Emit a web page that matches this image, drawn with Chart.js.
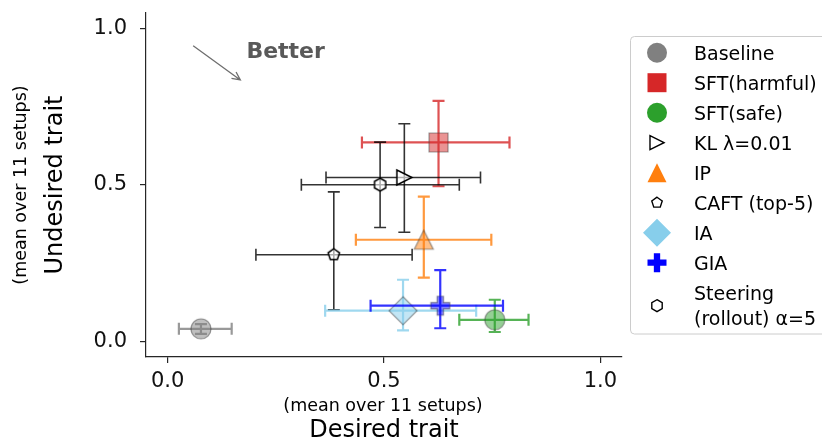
<!DOCTYPE html>
<html>
<head>
<meta charset="utf-8">
<script src="https://cdn.jsdelivr.net/npm/chart.js@4/dist/chart.umd.min.js"></script>
<style>
  html, body { margin: 0; padding: 0; background: #fff; }
  #wrap { width: 822px; height: 437px; }
</style>
</head>
<body>
<div id="wrap"><canvas id="chart" width="822" height="437"></canvas></div>
<script>
// methods, in drawing order
const methods = ['Baseline', 'SFT(harmful)', 'SFT(safe)', 'KL λ=0.01', 'IP', 'CAFT (top-5)', 'IA', 'GIA', 'Steering\n(rollout) α=5'];

// desired trait (x), mean over 11 setups, with error bar ends
const desiredMean = [0.077, 0.626, 0.756, 0.547, 0.592, 0.384, 0.544, 0.630, 0.491];
const desiredLow  = [0.026, 0.449, 0.674, 0.366, 0.435, 0.204, 0.364, 0.469, 0.309];
const desiredHigh = [0.148, 0.790, 0.834, 0.723, 0.748, 0.565, 0.713, 0.775, 0.674];

// undesired trait (y)
const undesiredMean = [0.040, 0.636, 0.069, 0.524, 0.325, 0.277, 0.098, 0.114, 0.501];
const undesiredLow  = [0.024, 0.496, 0.030, 0.349, 0.204, 0.101, 0.035, 0.042, 0.364];
const undesiredHigh = [0.055, 0.769, 0.133, 0.696, 0.463, 0.478, 0.197, 0.228, 0.637];

const tickValues = [0, 0.5, 1.0];

// "Better" arrow annotation, in data units
const arrowFrom = [0.059, 0.945];
const arrowTo = [0.168, 0.836];
const betterAt = [0.182, 0.905];

// styling
const colors = ['#808080', '#d62728', '#2ca02c', '#000000', '#ff7f0e', '#000000', '#87ceeb', '#0000ff', '#000000'];
const shapes = ['circle', 'square', 'circle', 'triRight', 'triUp', 'pentagon', 'diamond', 'plus', 'hexagon'];
const sizes = [20, 19, 20, 15, 19, 12, 28, 19, 13];
const hollow = [false, false, false, true, false, true, false, false, true];

const FONT = '"DejaVu Sans", sans-serif';

function rgba(hex, a) {
  const n = parseInt(hex.slice(1), 16);
  return `rgba(${(n >> 16) & 255},${(n >> 8) & 255},${n & 255},${a})`;
}

function drawShape(g, shape, x, y, s, fill, stroke, lw) {
  const h = s / 2;
  g.beginPath();
  if (shape === 'circle') {
    g.arc(x, y, h, 0, Math.PI * 2);
  } else if (shape === 'square') {
    g.rect(x - h, y - h, s, s);
  } else if (shape === 'triUp') {
    g.moveTo(x, y - h); g.lineTo(x - h, y + h); g.lineTo(x + h, y + h);
  } else if (shape === 'triRight') {
    g.moveTo(x + h, y); g.lineTo(x - h, y - h); g.lineTo(x - h, y + h);
  } else if (shape === 'diamond') {
    g.moveTo(x, y - h); g.lineTo(x + h, y); g.lineTo(x, y + h); g.lineTo(x - h, y);
  } else if (shape === 'pentagon' || shape === 'hexagon') {
    const k = shape === 'pentagon' ? 5 : 6;
    for (let i = 0; i < k; i++) {
      const a = -Math.PI / 2 + i * 2 * Math.PI / k;
      const px = x + h * Math.cos(a), py = y + h * Math.sin(a);
      if (i === 0) g.moveTo(px, py); else g.lineTo(px, py);
    }
  } else if (shape === 'plus') {
    const t = s / 6;
    const pts = [[-1, -3], [-1, -1], [-3, -1], [-3, 1], [-1, 1], [-1, 3], [1, 3], [1, 1], [3, 1], [3, -1], [1, -1], [1, -3]];
    pts.forEach((p, i) => i ? g.lineTo(x + p[0] * t, y + p[1] * t) : g.moveTo(x + p[0] * t, y + p[1] * t));
  }
  g.closePath();
  if (fill) { g.fillStyle = fill; g.fill(); }
  if (stroke) { g.strokeStyle = stroke; g.lineWidth = lw; g.stroke(); }
}

function makeMarker(i) {
  const dim = Math.ceil(sizes[i]) + 6;
  const c = document.createElement('canvas');
  c.width = dim; c.height = dim;
  const g = c.getContext('2d');
  if (hollow[i]) drawShape(g, shapes[i], dim / 2, dim / 2, sizes[i], 'rgba(255,255,255,0.6)', '#000', 1.5);
  else drawShape(g, shapes[i], dim / 2, dim / 2, sizes[i], rgba(colors[i], 0.5), 'rgba(60,60,60,0.5)', 1.2);
  return c;
}

const n = methods.length;
const datasets = methods.map((m, i) => ({
  label: m,
  data: [{ x: desiredMean[i], y: undesiredMean[i] }],
  pointStyle: makeMarker(i),
  pointRadius: 10,
  order: n - 1 - i
}));

// error bars drawn just before each dataset's marker
const errorBars = {
  id: 'errorBars',
  beforeDatasetDraw(chart, args) {
    const i = args.index;
    const xs = chart.scales.x, ys = chart.scales.y;
    const g = chart.ctx;
    const cx = xs.getPixelForValue(desiredMean[i]), cy = ys.getPixelForValue(undesiredMean[i]);
    const x0 = xs.getPixelForValue(desiredLow[i]), x1 = xs.getPixelForValue(desiredHigh[i]);
    const y0 = ys.getPixelForValue(undesiredLow[i]), y1 = ys.getPixelForValue(undesiredHigh[i]);
    const cap = 6;
    g.save();
    g.strokeStyle = hollow[i] ? 'rgba(0,0,0,0.8)' : rgba(colors[i], 0.8);
    g.lineWidth = hollow[i] ? 1.6 : 2.2;
    g.beginPath();
    g.moveTo(x0, cy); g.lineTo(x1, cy);
    g.moveTo(cx, y0); g.lineTo(cx, y1);
    g.moveTo(x0, cy - cap); g.lineTo(x0, cy + cap);
    g.moveTo(x1, cy - cap); g.lineTo(x1, cy + cap);
    g.moveTo(cx - cap, y0); g.lineTo(cx + cap, y0);
    g.moveTo(cx - cap, y1); g.lineTo(cx + cap, y1);
    g.stroke();
    g.restore();
  }
};

// axis titles, annotation and legend
const decorations = {
  id: 'decorations',
  afterDraw(chart) {
    const g = chart.ctx;
    const xs = chart.scales.x, ys = chart.scales.y;
    g.save();
    g.fillStyle = '#000';
    g.textAlign = 'center';
    g.textBaseline = 'alphabetic';

    // x titles
    g.font = `17.5px ${FONT}`;
    g.fillText('(mean over 11 setups)', 383, 411);
    g.font = `24px ${FONT}`;
    g.fillText('Desired trait', 384, 437);

    // y titles
    g.save();
    g.translate(26, 185); g.rotate(-Math.PI / 2);
    g.font = `17.5px ${FONT}`;
    g.fillText('(mean over 11 setups)', 0, 0);
    g.restore();
    g.save();
    g.translate(62, 185); g.rotate(-Math.PI / 2);
    g.font = `24px ${FONT}`;
    g.fillText('Undesired trait', 0, 0);
    g.restore();

    // "Better" arrow
    const ax0 = xs.getPixelForValue(arrowFrom[0]), ay0 = ys.getPixelForValue(arrowFrom[1]);
    const ax1 = xs.getPixelForValue(arrowTo[0]), ay1 = ys.getPixelForValue(arrowTo[1]);
    g.strokeStyle = '#6e6e6e';
    g.lineWidth = 1.3;
    g.beginPath();
    g.moveTo(ax0, ay0); g.lineTo(ax1, ay1);
    const ang = Math.atan2(ay1 - ay0, ax1 - ax0);
    const hl = 9, hw = 0.45;
    g.moveTo(ax1 - hl * Math.cos(ang - hw), ay1 - hl * Math.sin(ang - hw));
    g.lineTo(ax1, ay1);
    g.lineTo(ax1 - hl * Math.cos(ang + hw), ay1 - hl * Math.sin(ang + hw));
    g.stroke();
    g.fillStyle = '#595959';
    g.font = `bold 22px ${FONT}`;
    g.textAlign = 'left';
    g.fillText('Better', xs.getPixelForValue(betterAt[0]), ys.getPixelForValue(betterAt[1]));

    // legend
    const lx = 630.5, ly = 36.5, lw = 205, lh = 297.5, r = 4;
    g.beginPath();
    g.moveTo(lx + r, ly); g.lineTo(lx + lw - r, ly); g.arcTo(lx + lw, ly, lx + lw, ly + r, r);
    g.lineTo(lx + lw, ly + lh - r); g.arcTo(lx + lw, ly + lh, lx + lw - r, ly + lh, r);
    g.lineTo(lx + r, ly + lh); g.arcTo(lx, ly + lh, lx, ly + lh - r, r);
    g.lineTo(lx, ly + r); g.arcTo(lx, ly, lx + r, ly, r);
    g.closePath();
    g.fillStyle = 'rgba(255,255,255,0.8)';
    g.fill();
    g.strokeStyle = '#cccccc';
    g.lineWidth = 1;
    g.stroke();

    g.font = `19px ${FONT}`;
    g.textAlign = 'left';
    methods.forEach((m, i) => {
      const lines = m.split('\n');
      let cy = 52.7 + i * 30;
      if (lines.length > 1) cy += 13;
      if (hollow[i]) drawShape(g, shapes[i], 657, cy, sizes[i] - 1, '#fff', '#000', 1.4);
      else drawShape(g, shapes[i], 657, cy, sizes[i], colors[i], null, 0);
      g.fillStyle = '#000';
      lines.forEach((t, k) => {
        const ty = cy - (lines.length - 1) * 12.8 + k * 25.6;
        g.fillText(t, 694, ty + 6.8);
      });
    });
    g.restore();
  }
};

const axisColor = '#262626';
const tickFont = { family: FONT, size: 21 };

new Chart(document.getElementById('chart'), {
  type: 'scatter',
  data: { datasets },
  options: {
    responsive: false,
    devicePixelRatio: 1,
    animation: false,
    events: [],
    layout: { padding: { left: 0, right: 200, top: 13, bottom: 0 } },
    plugins: { legend: { display: false }, tooltip: { enabled: false } },
    scales: {
      x: {
        type: 'linear', min: -0.05, max: 1.05,
        afterBuildTicks: s => { s.ticks = tickValues.map(v => ({ value: v })); },
        afterFit: s => { s.height = 80; s.paddingLeft = 0; s.paddingRight = 0; },
        grid: { drawOnChartArea: false, drawTicks: true, tickLength: 6, color: axisColor, lineWidth: 1.2 },
        border: { display: true, color: axisColor, width: 1.2 },
        ticks: { font: tickFont, color: '#111', padding: 6, maxRotation: 0, callback: v => v.toFixed(1) }
      },
      y: {
        type: 'linear', min: -0.05, max: 1.05,
        afterBuildTicks: s => { s.ticks = tickValues.map(v => ({ value: v })); },
        afterFit: s => { s.width = 146; s.paddingTop = 0; s.paddingBottom = 0; },
        grid: { drawOnChartArea: false, drawTicks: true, tickLength: 6, color: axisColor, lineWidth: 1.2 },
        border: { display: true, color: axisColor, width: 1.2 },
        ticks: { font: tickFont, color: '#111', padding: 13, callback: v => v.toFixed(1) }
      }
    }
  },
  plugins: [errorBars, decorations]
});
</script>
</body>
</html>
